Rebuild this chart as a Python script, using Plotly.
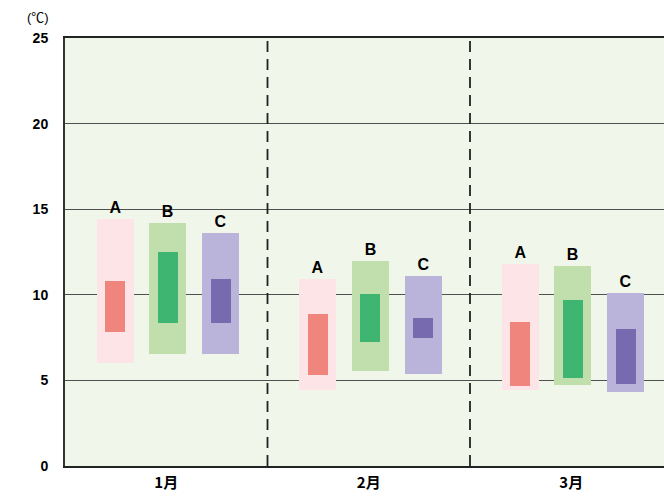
import plotly.graph_objects as go

months = ["1月", "2月", "3月"]
series = ["A", "B", "C"]

outer_low = {"A": [6.0, 4.45, 4.45], "B": [6.55, 5.55, 4.75], "C": [6.55, 5.35, 4.3]}
outer_high = {"A": [14.4, 10.9, 11.8], "B": [14.2, 12.0, 11.7], "C": [13.6, 11.1, 10.1]}
inner_low = {"A": [7.8, 5.3, 4.7], "B": [8.35, 7.25, 5.15], "C": [8.35, 7.45, 4.8]}
inner_high = {"A": [10.8, 8.9, 8.4], "B": [12.5, 10.05, 9.7], "C": [10.9, 8.65, 8.0]}

y_ticks = [0, 5, 10, 15, 20, 25]

outer_colors = {"A": "#fce4e7", "B": "#c0dfad", "C": "#bab4da"}
inner_colors = {"A": "#f0857d", "B": "#3fb572", "C": "#786aaf"}
centers = {"A": -0.252, "B": 0.007, "C": 0.27}
outer_w = 0.183
inner_w = 0.099

fig = go.Figure()
for s in series:
    fig.add_trace(go.Bar(
        x=months,
        base=outer_low[s],
        y=[h - l for h, l in zip(outer_high[s], outer_low[s])],
        width=outer_w,
        offset=centers[s] - outer_w / 2,
        marker=dict(color=outer_colors[s], line=dict(width=0)),
        text=[s] * len(months),
        textposition="outside",
        constraintext="none",
        cliponaxis=False,
        textfont=dict(family="Liberation Sans", size=16, color="#000000", weight="bold"),
        hoverinfo="skip",
        showlegend=False,
    ))
    fig.add_trace(go.Bar(
        x=months,
        base=inner_low[s],
        y=[h - l for h, l in zip(inner_high[s], inner_low[s])],
        width=inner_w,
        offset=centers[s] - inner_w / 2,
        marker=dict(color=inner_colors[s], line=dict(width=0)),
        hoverinfo="skip",
        showlegend=False,
    ))

for xb in [0.5, 1.5]:
    fig.add_shape(type="line", xref="x", yref="y", x0=xb, x1=xb, y0=0, y1=25,
                  line=dict(color="#222222", width=1.8, dash="11px,7px"), layer="above")

fig.add_annotation(text="(℃)", xref="paper", yref="paper", x=0, y=1,
                   xanchor="right", yanchor="bottom", xshift=-14, yshift=11,
                   showarrow=False,
                   font=dict(family="Liberation Sans, Noto Sans CJK JP", size=13, color="#000000"))

fig.update_layout(
    width=664, height=497,
    margin=dict(l=65, r=0, t=38, b=31, autoexpand=False),
    paper_bgcolor="#ffffff",
    plot_bgcolor="#f1f6eb",
    barmode="overlay",
    bargap=0,
    font=dict(family="Liberation Sans, Noto Sans CJK JP", color="#000000"),
)
fig.update_xaxes(
    range=[-0.5, -0.5 + 599 / 202.5],
    automargin=False,
    showgrid=False,
    showline=True, linecolor="#222222", linewidth=2, mirror=True,
    ticks="", ticklabelstandoff=2,
    tickfont=dict(family="Noto Sans CJK JP", size=15, color="#000000", weight="bold"),
)
fig.update_yaxes(
    range=[0, 25],
    automargin=False,
    tickvals=y_ticks,
    showgrid=True, gridcolor="#505050", gridwidth=1.2,
    showline=True, linecolor="#333333", linewidth=2, mirror=False,
    zeroline=False,
    ticks="", ticklabelstandoff=12,
    tickfont=dict(family="Liberation Sans", size=14, color="#000000", weight="bold"),
)

fig.write_html(
    "out.html",
    config={"displayModeBar": False},
    post_script="document.body.style.margin='0';document.body.style.overflow='hidden';",
)
